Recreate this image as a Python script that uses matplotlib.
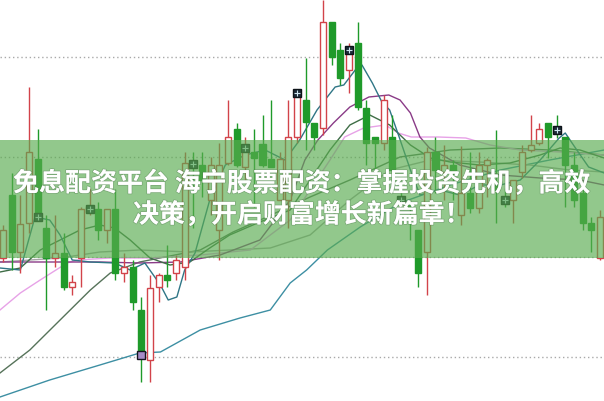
import matplotlib.pyplot as plt
from matplotlib.patches import Rectangle
import matplotlib.patheffects as pe

# candle data (price units)
opens = [10.99, 11.62, 11.05, 11.34, 11.98, 11.29, 10.99, 11.04, 10.70, 10.99,
         11.45, 11.48, 11.27, 11.48, 10.84, 10.90, 10.47, 9.97, 10.70, 10.82,
         10.84, 10.90, 11.95, 11.92, 11.57, 11.27, 11.94, 12.28, 11.90, 12.05,
         12.13, 11.98, 11.57, 11.57, 12.20, 12.57, 12.34, 12.29, 13.35, 13.07,
         12.87, 13.14, 12.49, 12.20, 12.14, 12.20, 11.60, 11.54, 11.27, 11.05,
         12.05, 11.85, 11.92, 11.42, 11.64, 11.49, 11.92, 11.72, 11.60, 11.57,
         11.85, 12.07, 12.14, 12.34, 12.30, 12.20, 11.92, 11.64, 11.34, 10.99]
closes = [11.27, 11.05, 11.33, 12.05, 11.40, 10.99, 11.04, 10.70, 10.75, 11.48,
          11.50, 11.27, 11.48, 10.84, 10.90, 10.55, 10.02, 10.69, 10.82, 10.77,
          10.97, 11.94, 11.90, 11.77, 11.92, 11.92, 12.20, 11.92, 12.09, 11.99,
          11.92, 11.90, 11.98, 12.20, 12.64, 12.35, 12.20, 13.35, 13.00, 12.79,
          13.07, 12.50, 12.14, 12.14, 12.57, 11.87, 11.54, 11.49, 10.84, 12.05,
          11.87, 11.92, 11.85, 11.64, 11.49, 11.92, 11.97, 11.67, 11.54, 11.77,
          12.05, 12.12, 12.28, 12.20, 12.25, 11.92, 11.57, 11.34, 11.27, 11.40]
highs = [11.32, 11.84, 11.62, 12.70, 12.28, 11.42, 11.42, 11.24, 10.82, 11.50,
         11.69, 11.55, 11.48, 11.68, 11.04, 10.97, 10.60, 10.82, 10.84, 11.12,
         11.02, 12.05, 12.05, 12.05, 12.00, 12.14, 12.57, 12.34, 12.20, 12.28,
         12.42, 12.57, 12.05, 12.57, 12.67, 12.99, 12.34, 13.57, 13.35, 13.14,
         13.14, 13.35, 12.57, 12.20, 12.62, 12.42, 11.65, 11.57, 11.27, 12.10,
         12.20, 12.12, 11.97, 12.11, 12.05, 12.05, 11.99, 12.27, 11.69, 11.77,
         12.12, 12.42, 12.34, 12.34, 12.42, 12.20, 12.05, 11.70, 11.40, 11.47]
lows = [10.95, 10.87, 10.84, 11.24, 11.37, 10.47, 10.90, 10.67, 10.62, 10.70,
        11.42, 11.17, 11.14, 10.77, 10.75, 10.47, 9.75, 9.75, 10.55, 10.70,
        10.77, 10.77, 11.29, 11.60, 11.42, 10.97, 11.92, 11.90, 11.74, 11.50,
        11.90, 11.90, 11.57, 11.29, 12.14, 12.07, 12.07, 12.22, 12.92, 12.72,
        12.64, 12.47, 11.92, 11.87, 12.07, 11.70, 11.50, 11.17, 10.70, 10.62,
        11.64, 11.57, 11.57, 11.32, 11.44, 11.44, 11.60, 11.34, 11.50, 11.34,
        11.79, 12.05, 12.12, 11.99, 12.19, 11.50, 11.50, 11.27, 11.05, 10.97]

# signal markers (candle index, price)
mark_idx = [4, 10, 22, 28, 34, 40, 46, 58, 64]
mark_val = [11.40, 11.48, 11.93, 12.09, 12.64, 13.07, 11.57, 11.57, 12.27]
low_mark_idx = [16]
low_mark_val = [10.02]

# moving average lines (candle position, price)
ma5_x = [-0.35, 2.0, 3.7, 5.4, 6.6, 8.0, 10.1, 12.9, 14.7, 16.4, 18.2, 19.1, 20.1,
         21.0, 22.2, 23.9, 25.7, 28.0, 30.3, 32.6, 34.3, 36.3, 38.4, 39.4, 40.9,
         41.5, 42.7, 43.8, 44.7, 45.8, 47.1, 48.2, 50.5, 52.8, 55.1, 57.5, 59.8,
         62.1, 64.3, 65.0, 66.1, 67.7, 69.5]
ma5_y = [10.89, 10.87, 11.40, 11.37, 11.22, 10.97, 10.95, 10.94, 10.87, 10.94,
         10.72, 10.57, 10.60, 10.87, 11.04, 11.57, 11.92, 12.02, 12.07, 11.97,
         12.17, 12.47, 12.70, 12.72, 12.89, 12.92, 12.74, 12.55, 12.47, 12.20,
         11.87, 11.62, 11.67, 11.62, 11.72, 11.72, 11.77, 11.97, 12.19, 12.24,
         12.10, 11.90, 11.84]
ma10_x = [-0.35, 2.0, 4.3, 6.6, 8.9, 11.2, 12.9, 14.7, 17.0, 19.3, 21.6, 23.9,
          26.2, 29.7, 33.2, 35.5, 37.8, 40.1, 42.4, 44.7, 47.1, 49.4, 51.7, 55.1,
          58.6, 62.1, 64.4, 66.7, 69.5]
ma10_y = [10.85, 10.89, 11.07, 11.17, 11.27, 11.32, 11.29, 11.17, 10.99, 10.92,
          10.95, 11.09, 11.22, 11.35, 11.47, 11.77, 12.07, 12.32, 12.42, 12.32,
          12.12, 11.99, 11.95, 11.92, 11.94, 12.02, 12.09, 12.07, 11.99]
ma20_x = [-0.35, 6.6, 11.2, 15.8, 20.5, 25.1, 29.7, 33.2, 34.9, 36.4, 38.2, 40.1,
          42.3, 44.6, 45.9, 47.1, 48.2, 49.3, 52.8, 57.5, 62.1, 66.7, 69.5]
ma20_y = [10.95, 10.95, 10.95, 10.94, 10.95, 11.02, 11.17, 11.57, 11.97, 12.17,
          12.34, 12.50, 12.60, 12.62, 12.57, 12.44, 12.20, 12.09, 11.92, 11.82,
          11.79, 11.77, 11.72]
ma30_x = [-0.35, 2.0, 4.3, 7.4, 8.6, 12.4, 17.0, 22.8, 28.6, 33.2, 35.5, 37.8,
          39.5, 41.7, 44.2, 45.7, 47.2, 50.3, 53.5, 56.3, 59.8, 64.4, 69.5]
ma30_y = [10.47, 10.64, 10.77, 10.94, 10.97, 10.99, 10.99, 11.02, 11.07, 11.37,
          11.67, 11.97, 12.20, 12.29, 12.32, 12.24, 12.20, 12.20, 12.19, 12.12,
          12.07, 12.05, 12.02]
ma40_x = [-0.35, 3.1, 6.6, 10.1, 12.4, 15.8, 19.3, 22.8, 26.6, 30.5, 35.5, 40.1,
          45.9, 51.7, 57.5, 63.2, 69.5]
ma40_y = [9.84, 10.07, 10.37, 10.67, 10.84, 10.95, 11.01, 11.07, 11.25, 11.40,
          11.60, 11.77, 12.00, 12.07, 12.09, 12.07, 12.02]
ma60_x = [-0.35, 5.4, 11.2, 15.8, 18.2, 22.8, 27.4, 30.9, 33.2, 35.1, 37.5, 41.3,
          45.9, 51.7, 57.5, 63.2, 69.5]
ma60_y = [9.60, 9.77, 9.92, 10.04, 10.05, 10.27, 10.39, 10.47, 10.74, 10.87,
          11.07, 11.30, 11.54, 11.72, 11.87, 11.97, 12.07]
ma_gray_x = [-0.35, 6.6, 11.2, 15.8, 21.6, 26.2, 30.9, 35.5, 40.1, 44.7, 49.4,
             55.1, 60.9, 65.5, 69.5]
ma_gray_y = [10.95, 10.99, 11.05, 11.07, 11.05, 11.07, 11.09, 11.22, 11.57, 11.87,
             11.97, 11.95, 11.92, 11.87, 11.85]

title = "免息配资平台 海宁股票配资：掌握投资先机，高效\n决策，开启财富增长新篇章！"

up_col = "#d2434a"
dn_col = "#1f9a2a"

fig = plt.figure(figsize=(6.04, 4.01), dpi=100)
ax = fig.add_axes([0, 0, 1, 1])
ax.set_xlim(-0.347, 69.48)
ax.set_ylim(9.56, 13.57)
ax.axis("off")

for g in [10, 11, 12, 13]:
    ax.axhline(g, color="#a9a9a9", lw=1.0, ls=(0, (1, 2)), zorder=0)

# moving averages
ax.plot(ma60_x, ma60_y, color="#3d8fa3", lw=1.0, zorder=1)
ax.plot(ma40_x, ma40_y, color="#56735a", lw=1.0, zorder=1)
ax.plot(ma_gray_x, ma_gray_y, color="#a5a5a5", lw=1.0, zorder=1)
ax.plot(ma30_x, ma30_y, color="#e7a2e7", lw=1.0, zorder=1)
ax.plot(ma20_x, ma20_y, color="#8a3b87", lw=1.0, zorder=1)
ax.plot(ma10_x, ma10_y, color="#3f6e47", lw=1.0, zorder=1)
ax.plot(ma5_x, ma5_y, color="#2f7686", lw=1.0, zorder=1)

w = 0.7
for i in range(len(opens)):
    o, c, h, l = opens[i], closes[i], highs[i], lows[i]
    up = c >= o
    col = up_col if up else dn_col
    ax.vlines(i, l, h, color=col, lw=1.0, zorder=2)
    bottom = min(o, c)
    height = max(abs(c - o), 0.03)
    if up:
        ax.add_patch(Rectangle((i - w / 2, bottom), w, height, facecolor="white",
                               edgecolor=col, lw=1.0, zorder=3))
    else:
        ax.add_patch(Rectangle((i - w / 2, bottom), w, height, facecolor=col,
                               edgecolor=col, lw=1.0, zorder=3))

ax.plot(mark_idx, mark_val, "s", ms=6, mfc="#1d2b38", mec="#0c1218", zorder=4)
ax.plot(mark_idx, mark_val, "+", ms=4, mec="#cfe6f2", mew=0.8, zorder=5)
ax.plot(low_mark_idx, low_mark_val, "s", ms=6, mfc="#a68cc8", mec="#15151f", zorder=4)

# banner overlay
fig.patches.append(Rectangle((0, 1 - 258 / 401), 1, 118 / 401, transform=fig.transFigure,
                             facecolor="#5aac50", alpha=0.66, lw=0, zorder=5))
fig.text(0.5, 0.503, title, ha="center", va="center", color="white",
         fontsize=18.7, fontweight="bold", linespacing=1.2,
         family=["Noto Sans CJK SC", "DejaVu Sans"], zorder=6,
         path_effects=[pe.withStroke(linewidth=1.2, foreground=(0.3, 0.45, 0.3, 0.35))])

fig.savefig("out.png", dpi=100)
